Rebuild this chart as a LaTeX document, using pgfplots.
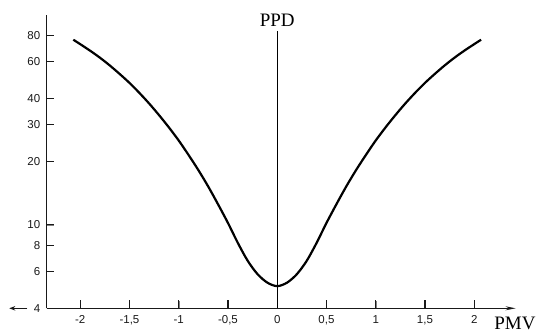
\documentclass[border=0pt]{standalone}
\usepackage{fontspec}
\setmainfont{Liberation Sans}
\newfontfamily\serif{Liberation Serif}
\usepackage{pgfplots}
\pgfplotsset{compat=1.18}
\usetikzlibrary{arrows.meta}

\begin{document}
\begin{tikzpicture}
% fix the page to the reference's frame (plot area starts at the origin)
\path[use as bounding box] (-46.7pt,-24.7pt) rectangle (490.3pt,308.3pt);
\begin{axis}[
    at={(0,0)}, anchor=south west,
    scale only axis,
    width=468.9pt, height=293.5pt,
    xmin=-2.34, xmax=2.42,
    ymode=log, ymin=4, ymax=100,
    axis x line=bottom, axis y line=left,
    x axis line style={-{Stealth[length=10pt,width=4pt]}},
    y axis line style={-},
    axis line style={line width=1.3pt, black!90},
    xtick={-2,-1.5,-1,-0.5,0,0.5,1,1.5,2},
    xticklabels={-2,{-1,5},-1,{-0,5},0,{0,5},1,{1,5},2},
    ytick={4,6,8,10,20,30,40,60,80},
    yticklabels={4,6,8,10,20,30,40,60,80},
    yminorticks=false,
    tick align=inside,
    major tick length=7.5pt,
    ticklabel style={font=\fontsize{11.5}{12}\selectfont, text=black!90},
    xticklabel style={yshift=-4pt},
    yticklabel style={xshift=-3pt},
    clip=false,
]
% PPD-PMV curve
\addplot[smooth, line width=2.2pt, black] coordinates {
    (-2.07,76.1) (-2.0,72.5) (-1.9,67.5) (-1.8,62.5) (-1.7,57.4) (-1.6,52.3)
    (-1.5,47.4) (-1.4,42.5) (-1.3,37.8) (-1.2,33.3) (-1.1,29.1) (-1.0,25.2)
    (-0.9,21.5) (-0.8,18.2) (-0.7,15.2) (-0.6,12.5) (-0.5,10.2)
    (-0.4,8.2) (-0.3,6.74) (-0.2,5.82) (-0.1,5.3) (0,5.1)
    (0.1,5.3) (0.2,5.82) (0.3,6.74) (0.4,8.2) (0.5,10.2)
    (0.6,12.5) (0.7,15.2) (0.8,18.2) (0.9,21.5) (1.0,25.2)
    (1.1,29.1) (1.2,33.3) (1.3,37.8) (1.4,42.5) (1.5,47.4)
    (1.6,52.3) (1.7,57.4) (1.8,62.5) (1.9,67.5) (2.0,72.5) (2.07,76.1)
};
% central PPD axis
\addplot[line width=1.3pt, black] coordinates {(0,4) (0,84)};
\node[font=\serif\fontsize{19}{20}\selectfont] at (axis cs:0,94.4) {PPD};
\node[font=\serif\fontsize{19}{20}\selectfont, yshift=-14.7pt] at (axis cs:2.414,4) {PMV};
% tick marks, drawn by hand (inside the frame)
\pgfplotsinvokeforeach{-2,-1.5,-1,-0.5,0.5,1,1.5,2}{
    \draw[line width=1.2pt, black!90] (axis cs:#1,4) -- ++(0pt,8pt);
}
\pgfplotsinvokeforeach{6,8,10,20,30,40,60,80}{
    \draw[line width=1.2pt, black!90] (axis cs:-2.34,#1) -- ++(7.5pt,0pt);
}
% little arrow left of the 4 label
\draw[line width=1.2pt, black!90, -{Stealth[length=6pt,width=4.5pt]}]
    (axis cs:-2.535,4) -- (axis cs:-2.72,4);
\end{axis}
\end{tikzpicture}
\end{document}
